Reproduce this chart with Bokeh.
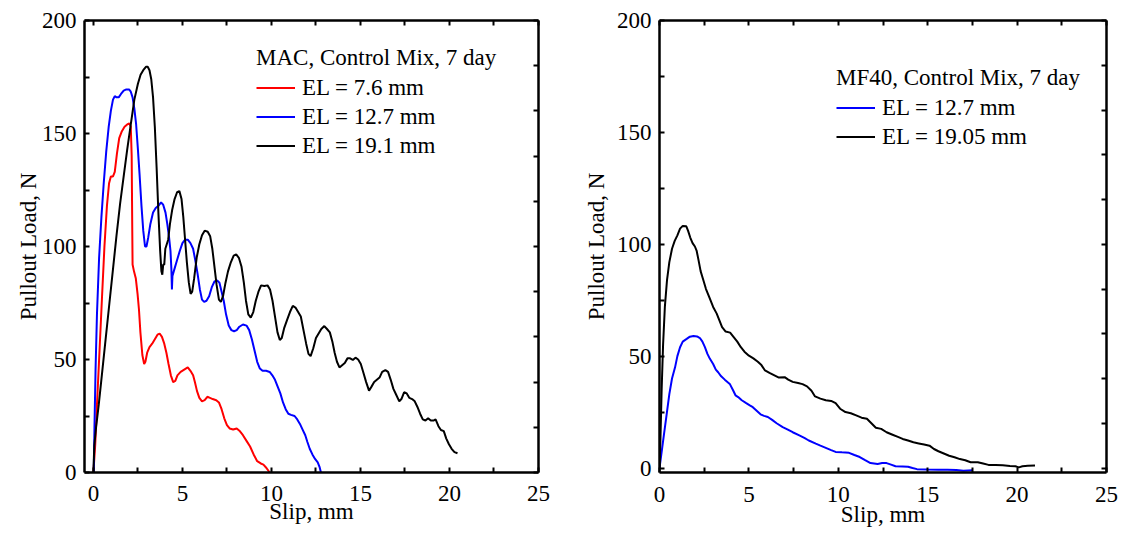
from bokeh.plotting import figure
from bokeh.models import Range1d, LinearAxis, FixedTicker, Legend, LegendItem
from bokeh.layouts import row
from bokeh.embed import file_html
from bokeh.resources import INLINE

# ---------------- data ----------------
mac_red_pts = [(0,0),(0.1,12),(0.2,30),(0.35,55),(0.48,77),(0.62,100),(0.76,118),(0.88,128),(0.98,131),(1.1,131),(1.2,133),(1.32,141),(1.45,148),(1.6,151),(1.75,153),(1.9,154),(2.02,154.5),(2.1,153),(2.15,140),(2.18,110),(2.2,92),(2.28,89),(2.38,86),(2.48,79),(2.56,72),(2.64,62),(2.75,52),(2.85,48),(2.92,49),(3.02,53),(3.15,55.5),(3.3,57),(3.45,59),(3.6,61),(3.72,61.5),(3.85,60),(3.98,57),(4.1,53),(4.22,48),(4.35,43),(4.48,40),(4.6,40.5),(4.72,43),(4.9,44.5),(5.1,45.5),(5.3,46.5),(5.45,45),(5.6,43),(5.7,40),(5.82,36),(5.95,33),(6.1,31.5),(6.25,32),(6.4,33.5),(6.55,33),(6.7,32.5),(6.9,32),(7.05,31),(7.2,28),(7.35,24),(7.5,21),(7.65,19.5),(7.85,19),(8.05,19.5),(8.2,18.5),(8.4,16.5),(8.6,14),(8.8,11.5),(9.0,8),(9.2,5),(9.4,4),(9.55,3.5),(9.72,2),(9.9,0)]

mac_blue_pts = [(0.02,0),(0.06,20),(0.12,45),(0.2,70),(0.32,95),(0.45,113),(0.58,128),(0.72,142),(0.86,153),(0.98,160),(1.1,165),(1.2,166.5),(1.3,166),(1.42,166),(1.55,167.5),(1.7,169),(1.85,169.5),(2.0,169.5),(2.1,168.5),(2.2,166),(2.3,161),(2.4,154),(2.5,143),(2.6,131),(2.7,118),(2.8,107),(2.9,100),(2.98,100),(3.08,104),(3.2,110),(3.35,115),(3.5,117),(3.65,118),(3.8,119.5),(3.92,118.5),(4.05,115),(4.15,110),(4.25,104),(4.33,98),(4.38,90),(4.41,81),(4.44,87),(4.55,90),(4.7,94),(4.85,98),(5.0,101.5),(5.15,103),(5.3,103),(5.45,101.5),(5.6,99),(5.72,94),(5.85,88),(5.98,81),(6.1,76.5),(6.22,75.5),(6.35,76),(6.5,78),(6.65,82),(6.8,84.5),(6.95,85),(7.08,84),(7.2,80),(7.32,76),(7.45,70),(7.6,65),(7.75,63),(7.9,62.5),(8.05,63),(8.2,64.5),(8.4,65.5),(8.6,65),(8.75,63),(8.9,59),(9.05,54),(9.2,49),(9.35,46),(9.5,45),(9.7,45),(9.9,44.5),(10.05,43),(10.2,41),(10.35,38),(10.5,35),(10.65,31),(10.8,28),(10.95,26),(11.1,25.5),(11.3,25),(11.45,23.5),(11.6,21.5),(11.75,19),(11.9,16.5),(12.02,13.5),(12.15,10.5),(12.3,8),(12.45,6),(12.6,4.5),(12.7,2.5),(12.78,0),(12.85,-2)]

mac_black_pts = [(0,0),(0.05,12),(0.15,20),(0.3,30),(0.5,45),(0.7,60),(0.9,75),(1.1,90),(1.3,105),(1.5,119),(1.7,131),(1.9,143),(2.1,154),(2.3,165),(2.5,172),(2.65,176),(2.8,178),(2.95,179.5),(3.05,179.5),(3.15,178),(3.25,174),(3.35,166),(3.45,153),(3.55,135),(3.65,115),(3.75,98),(3.82,89),(3.87,87.5),(3.92,92),(3.98,92),(4.04,99),(4.12,101),(4.2,103),(4.3,110),(4.42,116),(4.56,121),(4.7,124),(4.83,124.5),(4.95,121),(5.05,113),(5.15,103),(5.25,93),(5.36,84),(5.46,79),(5.55,80),(5.66,86),(5.8,95),(5.95,101),(6.1,105),(6.25,107),(6.42,106.5),(6.56,104.5),(6.68,99),(6.8,91),(6.92,83),(7.05,76.5),(7.16,75.5),(7.28,78),(7.42,84),(7.56,89),(7.72,93),(7.88,96),(8.02,96.5),(8.17,95),(8.32,91),(8.45,84),(8.57,76),(8.7,70),(8.84,68.5),(8.98,71),(9.12,76),(9.27,80),(9.42,82.8),(9.6,82.5),(9.78,82.8),(9.92,81),(10.06,76),(10.2,69),(10.34,62),(10.47,58.6),(10.58,59.5),(10.72,64),(10.88,67.5),(11.04,71),(11.2,73.7),(11.35,73),(11.5,71),(11.65,69),(11.8,63),(11.95,57),(12.08,52.5),(12.2,51.5),(12.35,55),(12.5,59.5),(12.65,61.5),(12.8,63.5),(12.97,64.8),(13.12,63.5),(13.28,62),(13.42,58),(13.55,53),(13.68,49),(13.82,46.5),(13.97,47.5),(14.12,48.5),(14.27,50.5),(14.42,50.5),(14.57,49.8),(14.72,50.8),(14.87,50),(15.02,48),(15.17,44),(15.32,40),(15.48,36.2),(15.62,38),(15.77,40),(15.92,41),(16.07,42),(16.22,44.5),(16.4,45.3),(16.55,44.5),(16.7,41),(16.85,37),(17.0,34.5),(17.18,31.5),(17.3,32.5),(17.45,35.5),(17.6,35),(17.75,33),(17.9,32.5),(18.05,31.5),(18.2,29),(18.35,26),(18.5,23.5),(18.65,23),(18.8,24),(18.95,23),(19.1,23),(19.22,23.5),(19.38,20.5),(19.52,18.8),(19.68,18.3),(19.82,15),(19.97,12.5),(20.12,10.5),(20.28,9),(20.45,8.5)]

mf40_blue_pts = [(0,0),(0.1,6),(0.25,15),(0.4,24),(0.55,33),(0.7,40),(0.87,45),(1.0,50),(1.15,54),(1.3,56.5),(1.52,57.7),(1.7,58.7),(1.9,59),(2.1,58.8),(2.26,58.1),(2.4,56.5),(2.54,54),(2.68,51),(2.82,48.8),(3.0,46.5),(3.15,44),(3.28,42.8),(3.45,41),(3.65,39.5),(3.93,37.6),(4.1,35),(4.25,32.5),(4.4,31.7),(4.6,30.3),(4.85,29),(5.05,28),(5.22,27.2),(5.45,25.5),(5.65,24),(5.85,23.3),(6.06,22.8),(6.3,21.5),(6.55,20),(6.89,18.3),(7.15,17.3),(7.45,16),(7.82,14.6),(8.1,13.5),(8.35,12.3),(8.74,10.9),(9.0,10),(9.3,9),(9.6,8),(9.85,7.2),(10.2,7),(10.6,6.8),(10.9,5.8),(11.2,4.9),(11.5,3.5),(11.8,2.2),(12.2,1.8),(12.45,2.2),(12.7,2.2),(12.95,1.5),(13.2,0.8),(13.6,0.7),(13.9,0.6),(14.15,0),(14.4,-0.5),(15.0,-0.7),(15.6,-0.8),(16.1,-0.8),(16.6,-0.9),(17.0,-1.2),(17.5,-1.0)]

mf40_black_pts = [(0,0),(0.05,12),(0.12,35),(0.2,55),(0.3,72),(0.42,84),(0.55,92),(0.7,98),(0.85,101.5),(1.0,104),(1.15,107),(1.3,108.2),(1.5,108),(1.6,106),(1.72,103),(1.85,100.5),(1.98,99),(2.08,97),(2.18,93),(2.3,88),(2.45,84),(2.6,80),(2.8,76),(3.0,72),(3.2,69),(3.35,66),(3.5,63),(3.7,61),(3.95,60.5),(4.15,58.5),(4.35,56.5),(4.55,54),(4.75,52),(5.0,50.2),(5.25,49),(5.5,47.5),(5.7,46),(5.9,43.6),(6.15,42.5),(6.4,41.5),(6.65,40.5),(7.0,40.6),(7.2,39.5),(7.45,38.5),(7.75,38),(8.0,37.5),(8.25,36.5),(8.5,34.5),(8.7,32),(9.0,31),(9.3,30.3),(9.6,30),(9.85,29),(10.1,26.5),(10.4,25),(10.7,24.5),(11.0,23.5),(11.3,22.5),(11.6,22),(11.85,20),(12.1,18),(12.4,17.5),(12.7,16),(13.0,15),(13.3,14),(13.6,13),(13.9,12.3),(14.2,11.5),(14.5,11),(14.8,10.5),(15.1,10),(15.35,8.5),(15.6,7.5),(15.9,6.5),(16.2,5.5),(16.5,4.8),(16.8,4),(17.1,3.5),(17.4,2.6),(17.8,2.6),(18.1,2),(18.4,1.4),(18.8,1.4),(19.2,1.2),(19.6,0.9),(19.9,0.8),(20.1,0.3),(20.3,0.8),(20.6,1.0),(21.0,1.1)]

left_title = "MAC, Control Mix, 7 day"
left_labels = ["EL = 7.6 mm", "EL = 12.7 mm", "EL = 19.1 mm"]
right_title = "MF40, Control Mix, 7 day"
right_labels = ["EL = 12.7 mm", "EL = 19.05 mm"]
x_title = "Slip, mm"
y_title = "Pullout Load, N"

x_label_ticks = [0, 5, 10, 15, 20, 25]
x_minor_ticks = [2.5, 7.5, 12.5, 17.5, 22.5]
x_top_ticks = [0, 2.5, 5, 7.5, 10, 12.5, 15, 17.5, 20, 22.5, 25]
y_label_ticks = [0, 50, 100, 150, 200]
y_minor_ticks = [25, 75, 125, 175]
y_right_ticks = [0, 20, 40, 60, 80, 100, 120, 140, 160, 180, 200]

FONT = "Liberation Serif"
FS = "23px"


def unzip(pts):
    return [p[0] for p in pts], [p[1] for p in pts]


def style_axis(ax):
    ax.axis_line_width = 2.5
    ax.axis_line_color = "black"
    ax.major_tick_in = 5
    ax.major_tick_out = 0
    ax.minor_tick_in = 5
    ax.minor_tick_out = 0
    ax.major_tick_line_width = 2
    ax.minor_tick_line_width = 2
    ax.major_tick_line_color = "black"
    ax.minor_tick_line_color = "black"
    ax.major_label_text_font = FONT
    ax.major_label_text_font_size = FS
    ax.major_label_text_color = "black"
    ax.axis_label_text_font = FONT
    ax.axis_label_text_font_size = FS
    ax.axis_label_text_font_style = "normal"
    ax.axis_label_text_color = "black"


def make_fig(xr, yr, w, h, bl, br, bt, bb, ylab_standoff, xtick_standoff, xlab_standoff):
    p = figure(width=w, height=h,
               x_range=Range1d(*xr), y_range=Range1d(*yr),
               output_backend="svg", toolbar_location=None,
               min_border_left=bl, min_border_right=br,
               min_border_top=bt, min_border_bottom=bb)
    p.xgrid.visible = False
    p.ygrid.visible = False
    p.outline_line_color = None
    p.background_fill_color = "white"
    p.border_fill_color = "white"

    xa = p.xaxis[0]
    xa.ticker = FixedTicker(ticks=x_label_ticks, minor_ticks=x_minor_ticks)
    xa.axis_label = x_title
    style_axis(xa)
    xa.major_label_standoff = xtick_standoff
    xa.axis_label_standoff = xlab_standoff

    ya = p.yaxis[0]
    ya.ticker = FixedTicker(ticks=y_label_ticks, minor_ticks=y_minor_ticks)
    ya.axis_label = y_title
    style_axis(ya)
    ya.major_label_standoff = 8
    ya.axis_label_standoff = ylab_standoff

    # mirrored tick marks only (minor ticks, so no tick labels are drawn)
    top = LinearAxis(ticker=FixedTicker(ticks=[], minor_ticks=x_top_ticks))
    style_axis(top)
    top.major_label_standoff = 0
    p.add_layout(top, "above")

    right = LinearAxis(ticker=FixedTicker(ticks=[], minor_ticks=y_right_ticks))
    style_axis(right)
    right.major_label_standoff = 0
    p.add_layout(right, "right")
    return p


def make_legend(title, items, loc):
    lg = Legend(items=items, location=loc, title=title)
    lg.title_text_font = FONT
    lg.title_text_font_size = FS
    lg.title_text_font_style = "normal"
    lg.title_text_color = "black"
    lg.title_standoff = 3
    lg.label_text_font = FONT
    lg.label_text_font_size = FS
    lg.label_text_color = "black"
    lg.glyph_width = 39
    lg.glyph_height = 27
    lg.label_height = 27
    lg.label_standoff = 7
    lg.spacing = 2
    lg.padding = 0
    lg.margin = 0
    lg.border_line_color = None
    lg.background_fill_alpha = 0
    return lg


# ---------------- left panel ----------------
p1 = make_fig((-0.5, 25), (0, 200), 580, 542, 84, 42, 20, 67, -2, 13, -5)
rx, ry = unzip(mac_red_pts)
bx, by = unzip(mac_blue_pts)
kx, ky = unzip(mac_black_pts)
r1 = p1.line(rx, ry, line_color="#ff0000", line_width=2)
r2 = p1.line(bx, by, line_color="#0000ff", line_width=2)
r3 = p1.line(kx, ky, line_color="black", line_width=2)
lg1 = make_legend(left_title, [LegendItem(label=left_labels[0], renderers=[r1]),
                               LegendItem(label=left_labels[1], renderers=[r2]),
                               LegendItem(label=left_labels[2], renderers=[r3])],
                  (172, 313))
p1.add_layout(lg1, "center")

# ---------------- right panel ----------------
p2 = make_fig((0, 25), (-2, 200), 543, 542, 76, 17, 19, 70, 5, 14, -3)
bx2, by2 = unzip(mf40_blue_pts)
kx2, ky2 = unzip(mf40_black_pts)
s1 = p2.line(bx2, by2, line_color="#0000ff", line_width=2)
s2 = p2.line(kx2, ky2, line_color="black", line_width=2)
lg2 = make_legend(right_title, [LegendItem(label=right_labels[0], renderers=[s1]),
                                LegendItem(label=right_labels[1], renderers=[s2])],
                  (177, 322))
p2.add_layout(lg2, "center")

layout = row(p1, p2)
open("out.html", "w").write(file_html(layout, INLINE))
